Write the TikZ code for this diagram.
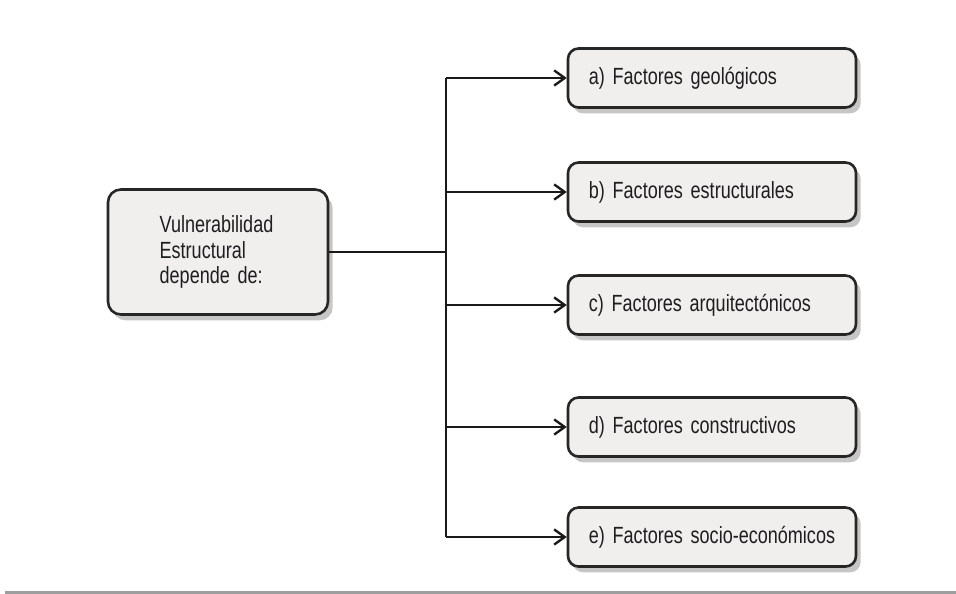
\documentclass[tikz,border=0pt]{standalone}
\usepackage{fontspec}
\setmainfont[FakeStretch=0.77]{Liberation Sans}
\usetikzlibrary{positioning, shadows, arrows.meta}
\definecolor{boxbg}{RGB}{241,239,238}
\definecolor{textgray}{RGB}{30,30,30}
\definecolor{rulegray}{RGB}{158,158,158}
\newcommand{\boxfont}{\fontsize{20}{21.5}\selectfont\spaceskip=3.6pt plus 1pt minus 1pt}
\tikzset{
  cause/.style={rectangle, rounded corners=11pt, draw=black!85, line width=2.2pt, fill=boxbg,
    drop shadow={shadow xshift=4pt, shadow yshift=-5pt, opacity=0.45},
    minimum width=6.6cm, minimum height=3.75cm, text width=3.5cm, inner xsep=1.55cm,
    align=left, text=textgray, font=\boxfont},
  factor/.style={rectangle, rounded corners=9pt, draw=black!85, line width=2.2pt, fill=boxbg,
    drop shadow={shadow xshift=4pt, shadow yshift=-5pt, opacity=0.45},
    minimum width=8.64cm, minimum height=1.77cm, text width=7.6cm, inner xsep=0.52cm,
    align=left, text=textgray, font=\boxfont},
  link/.style={line width=2pt, black!90},
  pointer/.style={link, -{Straight Barb[length=9pt, width=13pt, line width=2pt]}},
}

\begin{document}
\begin{tikzpicture}[x=0.03cm, y=-0.03cm]
\useasboundingbox (0,0) rectangle (956,594);
\fill[rulegray] (5,591) rectangle (956,594);

\node[cause] (vuln) at (218,252) {Vulnerabilidad\\ Estructural\\ depende de:};
\coordinate (split) at (446,252);

\foreach \name/\y/\txt in {geo/78/a) Factores geológicos,
                           est/192/b) Factores estructurales,
                           arq/305/c) Factores arquitectónicos,
                           con/427/d) Factores constructivos,
                           soc/537/e) Factores socio-económicos}{
  \node[factor] (\name) at (712,\y) {\hspace*{3pt}\txt};
  \draw[pointer] (split |- \name.west) -- (\name.west);
}

\draw[link] (vuln.east) -- (split);
\draw[link] (split |- geo.west) -- (split |- soc.west);
\end{tikzpicture}
\end{document}
